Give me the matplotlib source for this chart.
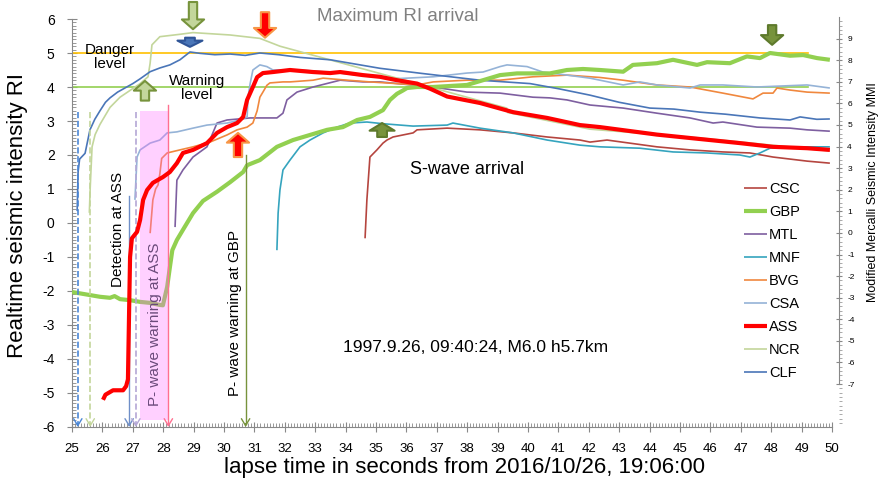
import matplotlib
matplotlib.use("Agg")
import matplotlib.pyplot as plt
from matplotlib.patches import Rectangle
from matplotlib.ticker import MultipleLocator

plt.rcParams['font.family'] = ['Liberation Sans', 'DejaVu Sans']
plt.rcParams['axes.unicode_minus'] = False

# ---- station traces (time s, RI) ----
csc_t = [34.64, 34.7, 34.8, 35.03, 35.23, 35.36, 35.56, 36.22, 36.35, 37.34, 38.42, 39.51, 40.63,
         41.71, 42.04, 42.6, 44.24, 45.33, 46.41, 47.3, 48.06, 49.18, 49.93]
csc_v = [-0.45, 0.68, 1.94, 2.15, 2.35, 2.44, 2.53, 2.65, 2.74, 2.79, 2.74, 2.65, 2.53,
         2.44, 2.38, 2.44, 2.24, 2.15, 2.09, 2.06, 1.94, 1.82, 1.76]

gbp_t = [25.0, 25.92, 26.25, 26.4, 26.58, 26.91, 27.24, 27.57, 27.89, 27.99, 28.13, 28.22, 28.3,
         28.45, 28.65, 28.98, 29.31, 29.77, 30.2, 30.63, 30.76, 31.18, 31.74, 32.27, 32.83, 33.39,
         33.91, 34.38, 34.8, 35.23, 35.46, 35.69, 35.89, 36.02, 36.35, 36.88, 37.99, 38.52, 39.08,
         39.64, 40.72, 41.28, 41.81, 42.37, 43.13, 43.45, 44.24, 44.77, 45.56, 45.89, 46.64, 47.2,
         47.63, 47.96, 48.62, 49.05, 49.51, 49.93]
gbp_v = [-2.03, -2.17, -2.2, -2.15, -2.24, -2.27, -2.32, -2.35, -2.41, -2.42, -1.88, -1.3, -0.8,
         -0.5, -0.2, 0.29, 0.65, 0.92, 1.2, 1.5, 1.7, 1.85, 2.24, 2.44, 2.59, 2.74,
         2.82, 3.03, 3.12, 3.32, 3.62, 3.8, 3.9, 3.97, 4.0, 4.0, 4.06, 4.2, 4.35,
         4.4, 4.4, 4.5, 4.53, 4.5, 4.45, 4.65, 4.7, 4.8, 4.65, 4.73, 4.7, 4.9,
         4.85, 5.0, 4.92, 4.94, 4.85, 4.8]

mtl_t = [28.39, 28.45, 28.65, 28.98, 29.44, 29.77, 30.1, 30.86, 31.74, 31.94, 32.07, 32.4, 32.93,
         33.82, 34.57, 35.13, 36.88, 37.99, 39.08, 40.16, 40.72, 41.28, 42.04, 43.13, 44.24,
         45.33, 46.09, 46.41, 47.53, 48.62, 49.18, 49.93]
mtl_v = [-0.12, 1.26, 1.56, 1.94, 2.24, 2.94, 3.03, 3.09, 3.09, 3.23, 3.62, 3.85, 4.0,
         4.2, 4.15, 4.15, 4.0, 3.85, 3.82, 3.7, 3.68, 3.62, 3.47, 3.38, 3.23,
         3.09, 2.94, 2.97, 2.82, 2.79, 2.74, 2.7]

mnf_t = [31.74, 31.78, 31.84, 31.94, 32.17, 32.5, 32.83, 33.26, 33.72, 34.14, 34.7, 35.23, 36.22,
         37.34, 37.53, 38.42, 39.51, 40.63, 41.71, 42.37, 43.68, 44.77, 45.89, 46.97, 47.3,
         47.63, 47.96, 48.62, 49.93]
mnf_v = [-0.8, 0.29, 0.97, 1.56, 1.85, 2.24, 2.44, 2.65, 2.82, 2.94, 2.97, 2.92, 2.85,
         2.88, 2.94, 2.79, 2.65, 2.44, 2.29, 2.24, 2.2, 2.09, 2.06, 2.0, 1.94,
         2.06, 2.2, 2.24, 2.24]

bvg_t = [27.57, 27.66, 27.75, 27.83, 27.89, 27.95, 28.13, 28.55, 28.98, 29.54, 30.1, 30.43, 30.76,
         30.95, 31.09, 31.18, 31.28, 31.41, 31.51, 31.94, 32.17, 32.93, 33.26, 34.05, 34.8,
         35.69, 36.35, 36.88, 37.99, 39.08, 40.16, 41.28, 42.37, 43.13, 44.24, 45.33, 46.41,
         47.4, 47.73, 48.06, 48.19, 48.62, 49.18, 49.93]
bvg_v = [-0.3, 0.68, 1.0, 1.12, 1.45, 1.9, 2.06, 2.15, 2.24, 2.38, 2.59, 2.74, 2.82,
         2.94, 3.3, 3.7, 3.85, 4.05, 4.12, 4.15, 4.15, 4.2, 4.26, 4.2, 4.15,
         4.1, 4.06, 4.15, 4.2, 4.2, 4.3, 4.35, 4.28, 4.2, 4.06, 4.0, 3.82,
         3.65, 3.82, 3.82, 3.97, 3.91, 3.85, 3.82]

csa_t = [27.07, 27.14, 27.24, 27.57, 27.89, 28.13, 28.45, 28.98, 29.44, 30.1, 30.53, 30.76, 30.79,
         30.86, 30.95, 31.18, 31.41, 31.61, 32.5, 33.82, 34.9, 35.79, 36.88, 37.99, 38.52,
         39.08, 39.31, 39.97, 40.49, 41.28, 42.04, 43.13, 43.68, 44.24, 45.33, 45.66, 46.41,
         47.53, 49.18, 49.93]
csa_v = [0.68, 1.94, 2.15, 2.35, 2.44, 2.65, 2.68, 2.79, 2.88, 2.94, 3.03, 3.12, 3.7,
         4.1, 4.5, 4.65, 4.6, 4.5, 4.5, 4.41, 4.3, 4.25, 4.3, 4.41, 4.44,
         4.6, 4.65, 4.6, 4.44, 4.35, 4.26, 4.06, 4.15, 4.06, 3.97, 4.06, 4.06,
         4.0, 4.06, 3.97]

ass_t = [26.02, 26.1, 26.35, 26.68, 26.78, 26.84, 26.88, 26.91, 26.97, 27.14, 27.24, 27.34, 27.47,
         27.66, 27.89, 27.99, 28.22, 28.45, 28.65, 28.98, 29.44, 29.77, 30.1, 30.43, 30.63,
         30.76, 30.95, 31.09, 31.28, 31.61, 32.17, 32.93, 33.49, 33.82, 34.57, 35.13, 35.69,
         36.35, 36.78, 37.34, 38.42, 39.51, 40.63, 41.71, 42.37, 44.24, 45.33, 46.97, 48.06,
         49.18, 49.93]
ass_v = [-5.2, -5.05, -4.92, -4.92, -4.8, -4.6, -2.5, -1.0, -0.45, -0.26, 0.09, 0.68, 0.97,
         1.18, 1.3, 1.35, 1.5, 1.76, 2.06, 2.15, 2.35, 2.65, 2.82, 2.94, 3.12,
         3.62, 4.0, 4.29, 4.41, 4.44, 4.5, 4.44, 4.41, 4.44, 4.35, 4.3, 4.2,
         4.1, 3.95, 3.72, 3.53, 3.26, 3.09, 2.88, 2.82, 2.6, 2.5, 2.35, 2.24,
         2.2, 2.15]

ncr_t = [25.57, 25.6, 25.66, 25.76, 25.92, 26.25, 26.58, 26.91, 27.24, 27.5, 27.57, 27.63, 27.89,
         28.55, 28.98, 30.2, 31.18, 31.84, 39.3, 39.33, 42.04, 45.66, 49.93]
ncr_v = [0.3, 1.06, 2.24, 2.6, 2.9, 3.4, 3.7, 3.9, 4.1, 4.3, 4.7, 5.24, 5.48,
         5.55, 5.6, 5.53, 5.43, 5.2, 3.38, 3.25, 2.76, 2.5, 2.12]

clf_t = [25.17, 25.2, 25.25, 25.43, 25.59, 25.75, 25.92, 26.1, 26.25, 26.5, 26.74, 27.0, 27.24,
         27.57, 27.89, 28.22, 28.55, 28.88, 29.21, 29.7, 30.2, 30.7, 31.18, 31.8, 32.5, 33.5,
         35.13, 36.5, 38.42, 40.07, 41.0, 42.04, 43.0, 44.01, 44.8, 45.66, 46.5, 47.63, 48.3,
         48.62, 48.95, 49.5, 49.93]
clf_v = [0.35, 1.5, 1.88, 2.05, 2.74, 3.05, 3.3, 3.55, 3.68, 3.85, 3.97, 4.1, 4.24,
         4.45, 4.56, 4.65, 4.8, 5.03, 4.99, 4.95, 4.97, 4.93, 5.0, 4.95, 4.87, 4.8,
         4.55, 4.4, 4.2, 4.1, 3.95, 3.76, 3.55, 3.38, 3.35, 3.26, 3.2, 3.09, 3.05,
         3.03, 3.12, 3.05, 3.06]

names = ['CSC', 'GBP', 'MTL', 'MNF', 'BVG', 'CSA', 'ASS', 'NCR', 'CLF']
colors = ['#B5453F', '#92D050', '#7E5FA0', '#35A4BE', '#F0883E', '#95B3D7', '#FF0000', '#C3D69B', '#4A76B8']
widths = [1.2, 3.0, 1.2, 1.2, 1.2, 1.2, 3.0, 1.2, 1.2]
series = [(csc_t, csc_v), (gbp_t, gbp_v), (mtl_t, mtl_v), (mnf_t, mnf_v), (bvg_t, bvg_v),
          (csa_t, csa_v), (ass_t, ass_v), (ncr_t, ncr_v), (clf_t, clf_v)]
zorders = [3, 4, 3, 3, 3, 3, 6, 3, 3]

# event markers: time, top of line, colour, style
mark_t = [25.19, 25.6, 26.88, 27.1, 28.17, 30.71]
mark_top = [3.26, 3.26, 0.8, 3.26, 3.47, 2.0]
mark_c = ['#4A86D6', '#C3D69B', '#6F8FC8', '#B4A7D6', '#FF7090', '#77933C']
mark_ls = ['--', '--', '-', '--', '-', '-']

fig = plt.figure(figsize=(8.85, 4.82), dpi=100)
ax = fig.add_axes([0.08136, 0.11411, 0.85876, 0.84647])
ax.set_xlim(25, 50)
ax.set_ylim(-6, 6)

gray = '#888888'
for s in ['top', 'right']:
    ax.spines[s].set_visible(False)
for s in ['left', 'bottom']:
    ax.spines[s].set_color(gray)
ax.set_xticks(range(25, 51))
ax.set_yticks(range(-6, 7))
ax.xaxis.set_minor_locator(MultipleLocator(0.1))
ax.yaxis.set_minor_locator(MultipleLocator(0.1))
ax.tick_params(which='major', direction='inout', length=7, color=gray, labelsize=9.5)
ax.tick_params(which='minor', direction='in', length=3, color=gray, width=0.6)
ax.tick_params(axis='y', which='major', pad=9, labelsize=10)
ax.tick_params(axis='x', which='major', pad=8)

# pink window around P-wave warning at ASS
ax.add_patch(Rectangle((27.24, -5.8), 0.95, 9.1, facecolor='#FF66FF', alpha=0.3,
                       edgecolor='none', zorder=5))

# warning / danger levels
ax.plot([25, 49.2], [5, 5], color='#FFC000', lw=1.2, zorder=2)
ax.plot([25, 49.2], [4, 4], color='#92D050', lw=1.2, zorder=2)

for (t, v), n, c, w, z in zip(series, names, colors, widths, zorders):
    ax.plot(t, v, color=c, lw=w, label=n, zorder=z, solid_capstyle='butt')

for x, top, c, ls in zip(mark_t, mark_top, mark_c, mark_ls):
    ax.plot([x, x], [top, -5.9], color=c, lw=1.2 if ls == '--' else 1.0, ls=ls, zorder=5)
    ax.annotate('', xy=(x, -6), xytext=(x, -5.9),
                arrowprops=dict(arrowstyle='->,head_length=0.5,head_width=0.3', color=c, lw=1.0,
                                shrinkA=0, shrinkB=0), zorder=5)


def block_arrow(tail, tip, fc, ec, hw=1.6, tw=0.6, hl=0.7):
    ax.annotate('', xy=tip, xytext=tail, annotation_clip=False,
                arrowprops=dict(arrowstyle='simple,head_length=%g,head_width=%g,tail_width=%g' % (hl, hw, tw),
                                fc=fc, ec=ec, lw=1.5, shrinkA=0, shrinkB=0, mutation_scale=10),
                zorder=8)


block_arrow((28.98, 6.5), (28.98, 5.7), '#C3D69B', '#77933C')
block_arrow((28.88, 5.45), (28.88, 5.18), '#4A76B8', '#2F5597', hw=1.8, tw=0.7, hl=0.45)
block_arrow((31.35, 6.2), (31.35, 5.45), '#FF0000', '#F79646')
block_arrow((27.4, 3.6), (27.4, 4.18), '#C3D69B', '#77933C')
block_arrow((30.46, 1.94), (30.46, 2.65), '#FF0000', '#F79646')
block_arrow((35.2, 2.53), (35.2, 2.94), '#77933C', '#5E7A2C', hw=1.8, tw=0.7, hl=0.55)
block_arrow((48.03, 5.82), (48.03, 5.24), '#77933C', '#5E7A2C')

# texts
ax.text(26.25, 4.88, 'Danger\nlevel', ha='center', va='center', fontsize=11, linespacing=1.0)
ax.text(29.1, 3.97, 'Warning\nlevel', ha='center', va='center', fontsize=11, linespacing=1.0)
ax.text(35.7, 6.06, 'Maximum RI arrival', ha='center', va='center', fontsize=13.5, color='#808080')
ax.text(38.0, 1.56, 'S-wave arrival', ha='center', va='center', fontsize=13)
ax.text(38.26, -3.65, '1997.9.26, 09:40:24, M6.0 h5.7km', ha='center', va='center', fontsize=12.5)
ax.text(26.5, -0.2, 'Detection at ASS', rotation=90, ha='center', va='center', fontsize=11)
ax.text(27.73, -2.97, 'P- wave warning at ASS', rotation=90, ha='center', va='center', fontsize=11,
        color='#6A4A7A', zorder=7)
ax.text(30.36, -2.65, 'P- wave warning at GBP', rotation=90, ha='center', va='center', fontsize=11)

# right hand MMI axis
ax2 = ax.twinx()
ax2.set_ylim(-8.99, 9.91)
for s in ['top', 'left', 'bottom']:
    ax2.spines[s].set_visible(False)
ax2.spines['right'].set_position(('axes', 1.009))
ax2.spines['right'].set_bounds(-7, 10)
ax2.spines['right'].set_color(gray)
ax2.set_yticks(range(-7, 11))
ax2.yaxis.set_minor_locator(MultipleLocator(0.2))
ax2.set_ylim(-8.99, 9.91)
ax2.tick_params(which='major', direction='inout', length=5, color=gray, labelsize=6)
ax2.tick_params(which='minor', direction='out', length=2, color=gray, width=0.5)

fig.text(18 / 885, 1 - 215 / 482, 'Realtime seismic intensity RI', rotation=90, ha='center',
         va='center', fontsize=16)
fig.text(464 / 885, 1 - 467 / 482, 'lapse time in seconds from 2016/10/26, 19:06:00', ha='center',
         va='center', fontsize=16)
fig.text(873 / 885, 1 - 192 / 482, 'Modified Mercalli Seismic Intensity MMI', rotation=90,
         ha='center', va='center', fontsize=9)

fig.legend(loc='upper left', bbox_to_anchor=(744 / 885, 1 - 182 / 482), frameon=False,
           fontsize=10.5, handlelength=1.6, handletextpad=0.1, labelspacing=0.62,
           borderpad=0, borderaxespad=0)

fig.savefig('out.png', dpi=100)
